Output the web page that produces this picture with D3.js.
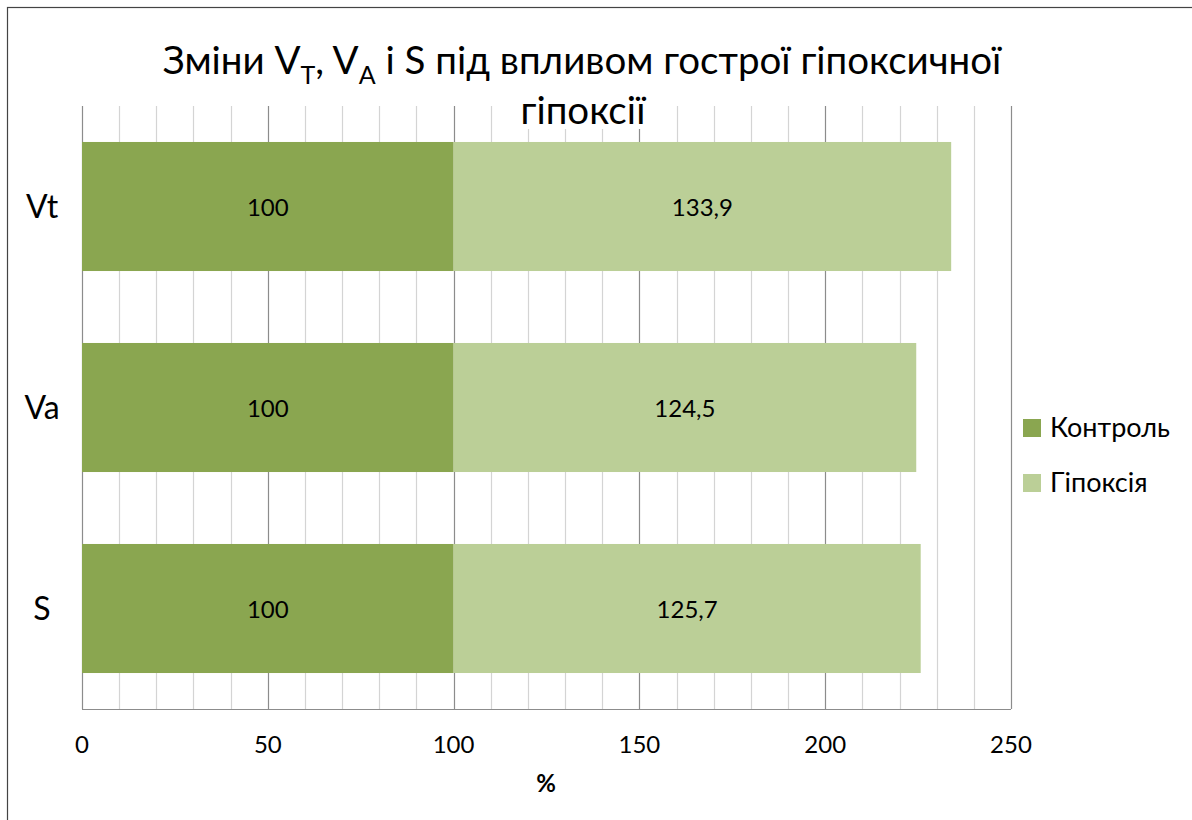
<!DOCTYPE html>
<html>
<head>
<meta charset="utf-8">
<script src="https://cdnjs.cloudflare.com/ajax/libs/d3/7.8.5/d3.min.js"></script>
<style>
  html, body { margin: 0; padding: 0; background: #fff; }
  svg { display: block; font-family: Lato, 'Open Sans', sans-serif; }
</style>
</head>
<body>
<div id="chart"></div>
<script>
// chart data
const categories = ["Vt", "Va", "S"];
const seriesNames = ["Контроль", "Гіпоксія"];
const controlValues = [100, 100, 100];
const hypoxiaValues = [133.9, 124.5, 125.7];
const tickLabels = [0, 50, 100, 150, 200, 250];
const seriesColors = ["#8AA650", "#BBCF97"];

const W = 1192, H = 820;
const plot = { left: 82, right: 1011, top: 106, bottom: 709 };

const svg = d3.select("#chart").append("svg")
  .attr("width", W)
  .attr("height", H);

// outer chart border (runs off the right and bottom edge)
svg.append("rect")
  .attr("x", 7.5).attr("y", 7.5)
  .attr("width", W + 20).attr("height", H + 20)
  .attr("fill", "#fff")
  .attr("stroke", "#444")
  .attr("stroke-width", 1.2);

const x = d3.scaleLinear().domain([0, 250]).range([plot.left, plot.right]);
const y = d3.scaleBand()
  .domain(categories)
  .range([plot.top, plot.bottom])
  .paddingInner(0.358)
  .paddingOuter(0.179);

// gridlines: minor every 10, major every 50
const grid = svg.append("g").attr("class", "grid");
grid.selectAll("line")
  .data(d3.range(0, 251, 10))
  .enter().append("line")
  .attr("x1", d => Math.round(x(d)) + 0.5)
  .attr("x2", d => Math.round(x(d)) + 0.5)
  .attr("y1", plot.top)
  .attr("y2", plot.bottom)
  .attr("stroke", d => d % 50 === 0 ? "#8c8c8c" : "#d4d4d4")
  .attr("stroke-width", 1.2);

// bottom axis line
svg.append("line")
  .attr("x1", plot.left).attr("x2", plot.right)
  .attr("y1", plot.bottom + 0.5).attr("y2", plot.bottom + 0.5)
  .attr("stroke", "#8c8c8c")
  .attr("stroke-width", 1.2);

// stacked bars
const stacked = categories.map((c, i) => ({
  cat: c,
  parts: [
    { s: 0, x0: 0, x1: controlValues[i], v: controlValues[i] },
    { s: 1, x0: controlValues[i], x1: controlValues[i] + hypoxiaValues[i], v: hypoxiaValues[i] }
  ]
}));

const fmt = v => String(v).replace(".", ",");

const rows = svg.selectAll(".row")
  .data(stacked)
  .enter().append("g")
  .attr("class", "row");

rows.selectAll("rect")
  .data(d => d.parts.map(p => Object.assign({ cat: d.cat }, p)))
  .enter().append("rect")
  .attr("x", d => x(d.x0))
  .attr("width", d => x(d.x1) - x(d.x0))
  .attr("y", d => y(d.cat))
  .attr("height", y.bandwidth())
  .attr("fill", d => seriesColors[d.s]);

rows.selectAll("text")
  .data(d => d.parts.map(p => Object.assign({ cat: d.cat }, p)))
  .enter().append("text")
  .attr("x", d => (x(d.x0) + x(d.x1)) / 2)
  .attr("y", d => y(d.cat) + y.bandwidth() / 2 + 9)
  .attr("text-anchor", "middle")
  .attr("font-size", 24)
  .attr("fill", "#000")
  .text(d => fmt(d.v));

// category labels
svg.selectAll(".cat-label")
  .data(categories)
  .enter().append("text")
  .attr("class", "cat-label")
  .attr("x", 42)
  .attr("y", d => y(d) + y.bandwidth() / 2 + 11)
  .attr("text-anchor", "middle")
  .attr("font-size", 32)
  .text(d => d);

// x tick labels
svg.selectAll(".tick-label")
  .data(tickLabels)
  .enter().append("text")
  .attr("class", "tick-label")
  .attr("x", d => x(d))
  .attr("y", 753)
  .attr("text-anchor", "middle")
  .attr("font-size", 24)
  .text(d => d);

// axis title
svg.append("text")
  .attr("x", 546)
  .attr("y", 792)
  .attr("text-anchor", "middle")
  .attr("font-size", 24)
  .attr("font-weight", "bold")
  .text("%");

// legend
const legend = svg.append("g").attr("class", "legend");
const li = legend.selectAll("g")
  .data(seriesNames)
  .enter().append("g")
  .attr("transform", (d, i) => `translate(1023, ${419 + i * 55})`);
li.append("rect")
  .attr("width", 18).attr("height", 18)
  .attr("fill", (d, i) => seriesColors[i]);
li.append("text")
  .attr("x", 27)
  .attr("y", 18)
  .attr("font-size", 27)
  .text(d => d);

// title
const title = svg.append("g").attr("class", "title");
const t1 = title.append("text")
  .attr("x", 582)
  .attr("y", 74)
  .attr("text-anchor", "middle")
  .attr("font-size", 38.5);
t1.append("tspan").text("Зміни V");
t1.append("tspan").attr("font-size", 25).attr("dy", 10).text("T");
t1.append("tspan").attr("dy", -10).text(", V");
t1.append("tspan").attr("font-size", 25).attr("dy", 10).text("A");
t1.append("tspan").attr("dy", -10).text(" і S під впливом гострої гіпоксичної");

const t2 = title.append("text")
  .attr("x", 583)
  .attr("y", 124)
  .attr("text-anchor", "middle")
  .attr("font-size", 38.5)
  .text("гіпоксії");
const bb = t2.node().getBBox();
title.insert("rect", "text:nth-of-type(2)")
  .attr("x", bb.x - 4)
  .attr("y", plot.top)
  .attr("width", bb.width + 8)
  .attr("height", 124 + 5 - plot.top)
  .attr("fill", "#fff");
</script>
</body>
</html>
